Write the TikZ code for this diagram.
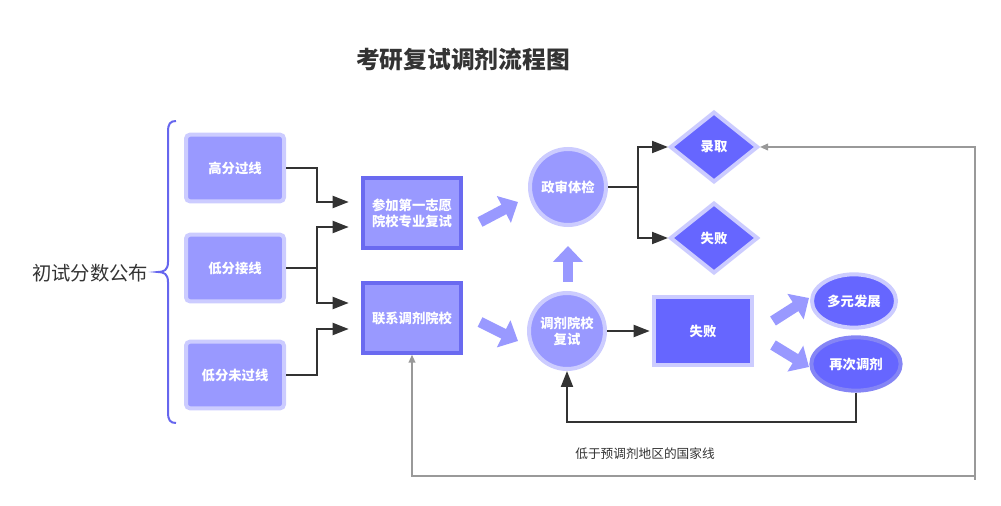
\documentclass[tikz,border=0pt]{standalone}
\usepackage{fontspec}
\setmainfont{Noto Sans CJK SC}
\usetikzlibrary{shapes.geometric,arrows.meta,calc}
\definecolor{lfill}{HTML}{9999FF}
\definecolor{lbord}{HTML}{CCCCFF}
\definecolor{dfill}{HTML}{6666FF}
\definecolor{dbord}{HTML}{6A6AF0}
\definecolor{mbord}{HTML}{8585F5}
\definecolor{txt}{HTML}{333333}
\definecolor{gline}{HTML}{999999}
\definecolor{brc}{HTML}{6666EE}
\begin{document}
\begin{tikzpicture}[x=0.75pt,y=-0.75pt,
 every node/.style={font=\bfseries\fontsize{10pt}{12pt}\selectfont, text=white, inner sep=0pt, align=center},
 lbox/.style={rectangle, rounded corners=3pt, fill=lfill, draw=lbord, line width=3pt, minimum width=73.5pt, minimum height=50pt},
 dbox/.style={rectangle, fill=lfill, draw=dbord, line width=3pt, minimum width=74pt, minimum height=52pt},
 lcirc/.style={circle, fill=lfill, draw=lbord, line width=3pt, minimum size=57pt},
 ddia/.style={diamond, fill=dfill, draw=lbord, line width=3pt, minimum width=66pt, minimum height=53pt},
 drect/.style={rectangle, fill=dfill, draw=lbord, line width=3pt, minimum width=73pt, minimum height=51pt},
 dell/.style={ellipse, fill=dfill, draw=lbord, line width=3pt, minimum width=63pt, minimum height=40pt},
 blk/.style={draw=txt, line width=1.5pt, -{Triangle[length=12pt,width=9pt]}},
 gry/.style={draw=gline, line width=1.2pt, {Triangle[length=6pt,width=5pt]}-{Triangle[length=6pt,width=5pt]}},
 fat/.style={draw=lfill, line width=8pt, -{Triangle[length=12pt,width=22pt]}}
]
\useasboundingbox (0,0) rectangle (1001,506);

% title and labels
\node (title) at (463,60) [font=\bfseries\fontsize{17.8pt}{20pt}\selectfont, text=txt] {考研复试调剂流程图};
\node (lab) at (90,273) [font=\fontsize{14.5pt}{17pt}\selectfont, text=txt] {初试分数公布};
\node (note) at (645,454) [font=\fontsize{9.5pt}{11pt}\selectfont, text=txt] {低于预调剂地区的国家线};

% brace
\draw[draw=brc, line width=1.5pt] (176,121) .. controls (170,121) and (168,124) .. (168,132) -- (168,262)
  .. controls (168,270) and (164,272) .. (158,272) .. controls (164,272) and (168,274) .. (168,282)
  -- (168,412) .. controls (168,420) and (170,423) .. (176,423);

% nodes
\node[lbox] (g1) at (235,168) {高分过线};
\node[lbox] (g2) at (235,268) {低分接线};
\node[lbox] (g3) at (235,375) {低分未过线};
\node[dbox] (c1) at (412,213) {参加第一志愿\\院校专业复试};
\node[dbox] (c2) at (412,318) {联系调剂院校};
\node[lcirc] (c3) at (568,187) {政审体检};
\node[lcirc] (c4) at (567,331) {调剂院校\\复试};
\node[ddia] (d1) at (714,147) {录取};
\node[ddia] (d2) at (714,238) {失败};
\node[drect] (f1) at (703,331) {失败};
\node[dell] (e1) at (854,301) {多元发展};
\node[dell, draw=mbord, minimum width=67pt] (e2) at (856,364) {再次调剂};

% black connectors
\draw[blk, shorten >=9pt] (g1.east) -- ++(31,0) |- ($(c1.west)+(0,-11)$);
\draw[blk, shorten >=9pt] (g2.east) -- ++(31,0) |- ($(c1.west)+(0,14)$);
\draw[blk, shorten >=9pt] (g2.east) -- ++(31,0) |- ($(c2.west)+(0,-15)$);
\draw[blk, shorten >=9pt] (g3.east) -- ++(31,0) |- ($(c2.west)+(0,11)$);
\draw[blk] (c3.east) -- ++(30,0) |- (d1.west);
\draw[blk] (c3.east) -- ++(30,0) |- (d2.west);
\draw[blk, shorten >=2pt] (c4.east) -- (f1.west);
\draw[blk] (e2.south) -- ++(0,29) -| (c4.south);

% gray connector
\coordinate (r1) at (975,476);
\coordinate (r2) at (975,480);
\draw[gry] (d1.east) -| (r1) -| (c2.south);
\draw[draw=gline, line width=1.2pt] (r1) -- (r2);

% fat arrows
\coordinate (a1s) at (480,222); \coordinate (a1e) at (518,202);
\coordinate (a2s) at (480,322); \coordinate (a2e) at (518,341);
\coordinate (a3s) at (568,282); \coordinate (a3e) at (568,246);
\coordinate (a4s) at (773,321); \coordinate (a4e) at (809,298);
\coordinate (a5s) at (773,345); \coordinate (a5e) at (809,367);
\draw[fat] (a1s) -- (a1e);
\draw[fat] (a2s) -- (a2e);
\draw[fat] (a3s) -- (a3e);
\draw[fat] (a4s) -- (a4e);
\draw[fat] (a5s) -- (a5e);
\end{tikzpicture}
\end{document}
